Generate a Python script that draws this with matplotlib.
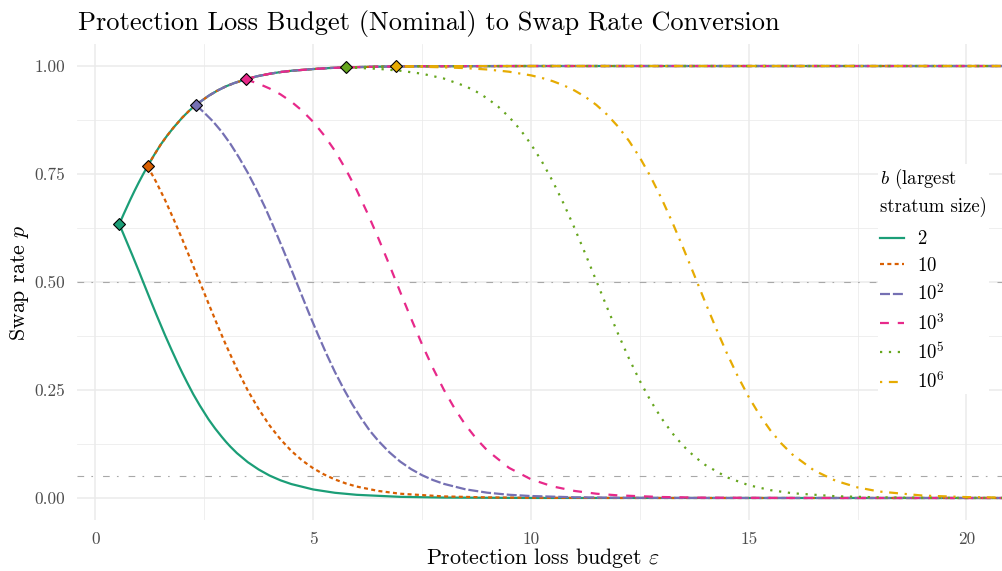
import matplotlib.pyplot as plt
from matplotlib.lines import Line2D

# legend labels for b (largest stratum size)
b_labels = ['$2$', '$10$', '$10^2$', '$10^3$', '$10^5$', '$10^6$']

# shared rising branch
eps_up = [0.549, 0.65, 0.8, 0.9, 1.0, 1.1, 1.199, 1.35, 1.5, 1.65, 1.8, 2.0, 2.15, 2.308,
          2.6, 2.8, 3.0, 3.2, 3.454, 3.7, 4.0, 4.25, 4.5, 5.0, 5.4, 5.756, 6.0, 6.5,
          6.908, 7.5, 8.0, 10.0, 12.0, 21.0]
p_up = [0.634, 0.657, 0.690, 0.711, 0.731, 0.750, 0.768, 0.794, 0.818, 0.839, 0.858, 0.881,
        0.896, 0.910, 0.931, 0.943, 0.953, 0.961, 0.969, 0.976, 0.982, 0.986, 0.989, 0.993,
        0.9955, 0.9968, 0.9975, 0.9985, 0.999, 0.9995, 0.9997, 1.0, 1.0, 1.0]

# diamonds where each b leaves the rising branch
eps_mark = [0.549, 1.199, 2.308, 3.454, 5.756, 6.908]
p_mark = [0.634, 0.768, 0.910, 0.969, 0.9968, 0.999]

# falling branches, one per b
eps_b2 = [0.549, 0.65, 0.75, 0.85, 1.0, 1.1, 1.25, 1.4, 1.5, 1.6, 1.75, 1.9, 2.0, 2.1, 2.25,
          2.4, 2.5, 2.6, 2.75, 2.9, 3.0, 3.1, 3.25, 3.5, 3.75, 4.0, 4.25, 4.5, 5.0, 5.5, 6.0,
          7.0, 8.0, 10.0, 21.0]
p_b2 = [0.634, 0.610, 0.586, 0.562, 0.525, 0.4997, 0.462, 0.425, 0.401, 0.377, 0.343, 0.310,
        0.289, 0.269, 0.240, 0.214, 0.198, 0.182, 0.161, 0.142, 0.130, 0.119, 0.104, 0.083,
        0.066, 0.052, 0.041, 0.0323, 0.0198, 0.0121, 0.0074, 0.0027, 0.001, 0.0001, 0.0]

eps_b10 = [1.199, 1.4, 1.6, 1.8, 2.0, 2.2, 2.4, 2.6, 2.8, 3.0, 3.25, 3.5, 3.75, 4.0, 4.25,
           4.5, 4.75, 5.0, 5.25, 5.5, 5.75, 6.0, 6.5, 7.0, 8.0, 9.0, 10.0, 12.0, 21.0]
p_b10 = [0.768, 0.731, 0.690, 0.645, 0.598, 0.549, 0.4995, 0.450, 0.401, 0.354, 0.299, 0.249,
         0.206, 0.168, 0.136, 0.109, 0.0869, 0.069, 0.0546, 0.043, 0.0338, 0.0265, 0.0163,
         0.0099, 0.0037, 0.0014, 0.0005, 0.0001, 0.0]

eps_b100 = [2.308, 2.5, 2.7, 2.9, 3.1, 3.3, 3.5, 3.7, 3.9, 4.1, 4.3, 4.5, 4.7, 4.9, 5.1, 5.3,
            5.5, 5.7, 5.9, 6.1, 6.3, 6.5, 6.75, 7.0, 7.25, 7.5, 7.75, 8.0, 8.5, 9.0, 9.5,
            10.0, 11.0, 12.0, 14.0, 21.0]
p_b100 = [0.910, 0.892, 0.872, 0.848, 0.820, 0.788, 0.753, 0.714, 0.672, 0.626, 0.578, 0.529,
          0.479, 0.429, 0.381, 0.335, 0.292, 0.253, 0.217, 0.185, 0.156, 0.132, 0.106,
          0.0843, 0.0669, 0.0529, 0.0417, 0.0328, 0.0201, 0.0123, 0.0075, 0.0046, 0.0017,
          0.0006, 0.0001, 0.0]

eps_b1000 = [3.454, 3.75, 4.0, 4.25, 4.5, 4.75, 5.0, 5.25, 5.5, 5.75, 6.0, 6.25, 6.5, 6.75,
             7.0, 7.25, 7.5, 7.75, 8.0, 8.25, 8.5, 8.75, 9.0, 9.5, 10.0, 10.5, 11.0, 11.5,
             12.0, 13.0, 14.0, 16.0, 21.0]
p_b1000 = [0.969, 0.959, 0.948, 0.9345, 0.9175, 0.8965, 0.871, 0.840, 0.804, 0.761, 0.713,
           0.659, 0.601, 0.540, 0.477, 0.4155, 0.356, 0.301, 0.251, 0.207, 0.169, 0.137,
           0.110, 0.0697, 0.0435, 0.0268, 0.0164, 0.010, 0.0061, 0.0023, 0.0008, 0.0001, 0.0]

eps_b1e5 = [5.756, 6.5, 7.0, 7.5, 8.0, 8.5, 8.75, 9.0, 9.25, 9.5, 9.75, 10.0, 10.25, 10.5,
            10.75, 11.0, 11.25, 11.5, 11.75, 12.0, 12.25, 12.5, 12.75, 13.0, 13.25, 13.5,
            13.75, 14.0, 14.5, 15.0, 15.5, 16.0, 17.0, 18.0, 19.0, 21.0]
p_b1e5 = [0.9968, 0.9934, 0.9891, 0.9822, 0.9711, 0.9532, 0.9406, 0.925, 0.9058, 0.8821,
          0.8536, 0.8195, 0.7795, 0.7336, 0.682, 0.6255, 0.5654, 0.5032, 0.441, 0.3806,
          0.3236, 0.2715, 0.2249, 0.1844, 0.1497, 0.1206, 0.0965, 0.0768, 0.048, 0.0297,
          0.0182, 0.0111, 0.0041, 0.0015, 0.0006, 0.0001]

eps_b1e6 = [6.908, 7.5, 8.0, 8.5, 9.0, 9.5, 10.0, 10.25, 10.5, 10.75, 11.0, 11.25, 11.5,
            11.75, 12.0, 12.25, 12.5, 12.75, 13.0, 13.25, 13.5, 13.75, 14.0, 14.25, 14.5,
            14.75, 15.0, 15.25, 15.5, 15.75, 16.0, 16.5, 17.0, 17.5, 18.0, 19.0, 20.0, 21.0]
p_b1e6 = [0.999, 0.9982, 0.997, 0.9951, 0.992, 0.9868, 0.9784, 0.9725, 0.965, 0.9554,
          0.9435, 0.9286, 0.9102, 0.8875, 0.86, 0.8271, 0.7884, 0.7437, 0.6933, 0.6377,
          0.5782, 0.5164, 0.454, 0.3931, 0.3353, 0.282, 0.2342, 0.1924, 0.1565, 0.1263,
          0.1011, 0.0639, 0.0398, 0.0245, 0.015, 0.0056, 0.0021, 0.0008]

eps_down = [eps_b2, eps_b10, eps_b100, eps_b1000, eps_b1e5, eps_b1e6]
p_down = [p_b2, p_b10, p_b100, p_b1000, p_b1e5, p_b1e6]

ref_levels = [0.5, 0.05]

x_ticks = [0, 5, 10, 15, 20]
x_tick_labels = ['0', '5', '10', '15', '20']
y_ticks = [0.0, 0.25, 0.5, 0.75, 1.0]
y_tick_labels = ['0.00', '0.25', '0.50', '0.75', '1.00']

# Dark2 colours and ggplot-like linetypes
colors = ['#1B9E77', '#D95F02', '#7570B3', '#E7298A', '#66A61E', '#E6AB02']
styles = ['-', (0, (1.8, 1.5)), (0, (4.5, 1.3)), (0, (4, 4)), (0, (1, 3)), (0, (1, 3, 4, 3))]
line_w = 1.6

plt.rcParams['font.family'] = 'cmr10'
plt.rcParams['mathtext.fontset'] = 'cm'
plt.rcParams['axes.formatter.use_mathtext'] = True
plt.rcParams['axes.unicode_minus'] = False

fig = plt.figure(figsize=(10.03, 5.71), dpi=100)
ax = fig.add_axes([0.0765, 0.090, 0.9235, 0.8322])

ax.set_xlim(-0.427, 20.84)
ax.set_ylim(-0.05, 1.05)
ax.set_xticks(x_ticks)
ax.set_xticklabels(x_tick_labels)
ax.set_xticks([2.5, 7.5, 12.5, 17.5], minor=True)
ax.set_yticks(y_ticks)
ax.set_yticklabels(y_tick_labels)
ax.set_yticks([0.125, 0.375, 0.625, 0.875], minor=True)
ax.grid(which='major', color='#EBEBEB', lw=1.1)
ax.grid(which='minor', color='#EBEBEB', lw=0.55)
ax.set_axisbelow(True)
ax.tick_params(which='both', length=0, labelsize=12.5, labelcolor='#4D4D4D')
ax.tick_params(axis='y', pad=8)
ax.tick_params(axis='x', pad=9)
for s in ax.spines.values():
    s.set_visible(False)

for lvl in ref_levels:
    ax.axhline(lvl, color='#A8A8A8', lw=0.8, ls=(0, (6, 6.5, 1.5, 9)), zorder=1)

for i in range(len(b_labels)):
    ax.plot(eps_down[i], p_down[i], color=colors[i], ls=styles[i], lw=line_w, zorder=2)
    up_x = [e for e in eps_up if e >= eps_mark[i]]
    up_y = [p for e, p in zip(eps_up, p_up) if e >= eps_mark[i]]
    ax.plot(up_x, up_y, color=colors[i], ls=styles[i], lw=line_w, zorder=2)

for i in range(len(b_labels)):
    ax.plot(eps_mark[i], p_mark[i], marker='D', ms=5.8, mfc=colors[i], mec='black',
            mew=0.8, zorder=5)

handles = [Line2D([], [], color=colors[i], ls=styles[i], lw=line_w) for i in range(len(b_labels))]
leg = ax.legend(handles, b_labels, title='$b$ (largest\nstratum size)', loc='upper left',
                bbox_to_anchor=(869 / 1003, 1 - 155 / 571), bbox_transform=fig.transFigure,
                frameon=True, facecolor='white', edgecolor='none', framealpha=1,
                fancybox=False, fontsize=13.5, title_fontsize=13.5, alignment='left',
                handlelength=1.28, handletextpad=0.66, labelspacing=0.45, borderpad=0.1)
leg.get_title().set_linespacing(1.4)
# a bit more room between the title and the first key
leg._legend_box.sep = 0.45 * 13.5 + 3.3
leg.set_zorder(10)

fig.text(78 / 1003, 1 - 30 / 571, 'Protection Loss Budget (Nominal) to Swap Rate Conversion',
         fontsize=19, va='baseline', ha='left')
fig.text(543 / 1003, 1 - 558.5 / 571, r'Protection loss budget $\varepsilon$',
         fontsize=15.8, ha='center', va='center')
fig.text(20 / 1003, 1 - 283 / 571, r'Swap rate $p$', fontsize=15.8, ha='center',
         va='center', rotation=90)

fig.savefig('out.png', dpi=100)
